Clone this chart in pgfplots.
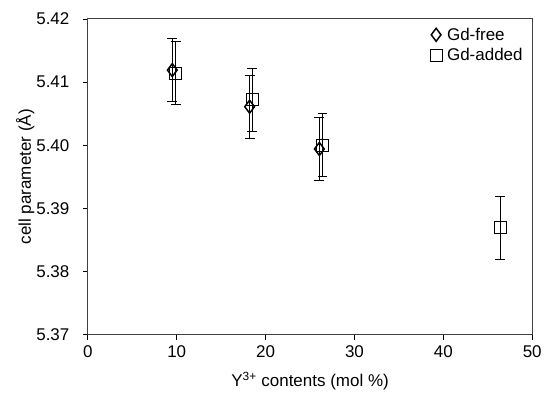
\documentclass[border=0pt]{standalone}
\usepackage{fontspec}
\setmainfont{Liberation Sans}
\usepackage{pgfplots}
\pgfplotsset{compat=1.18}
\begin{document}
\begin{tikzpicture}
\begin{axis}[
  scale only axis,
  width=445pt, height=316pt,
  xmin=0, xmax=50, ymin=5.37, ymax=5.42,
  xtick={0,10,20,30,40,50},
  ytick={5.37,5.38,5.39,5.40,5.41,5.42},
  yticklabel style={xshift=-10pt, /pgf/number format/.cd, fixed, fixed zerofill, precision=2},
  /pgf/number format/assume math mode=true,
  tick align=outside,
  tick pos=left,
  major tick length=5pt,
  axis line style={line width=1pt, black!75},
  tick style={line width=0.9pt, black},
  ticklabel style={font=\fontsize{17}{19}\selectfont},
  xticklabel style={yshift=-3pt},
  label style={font=\fontsize{17}{19}\selectfont},
  xlabel={Y\textsuperscript{3+} contents (mol \%)},
  ylabel={cell parameter (Å)},
  xlabel style={yshift=-7pt},
  ylabel style={yshift=-5pt},
  legend style={at={(0.99,0.985)}, anchor=north east, draw=none, fill=none,
    font=\fontsize{17}{19}\selectfont, row sep=3pt},
  legend cell align=left,
  legend image code/.code={\draw[#1] plot coordinates {(0cm,0cm)};},
  clip=false,
]
\addplot[only marks, mark=diamond, mark size=6.5pt, line width=1.5pt, black,
  error bars/.cd, y dir=both, y explicit,
  error bar style={line width=0.9pt, black},
  error mark options={rotate=90, mark size=5pt, line width=0.9pt, black}]
  coordinates {
  (9.5,5.4119) +- (0,0.005)
  (18.2,5.4061) +- (0,0.005)
  (26.05,5.3994) +- (0,0.005)
  };
\addlegendentry{\hspace*{3pt}Gd-free}
\addplot[only marks, mark=square, mark size=6pt, line width=1pt, black,
  error bars/.cd, y dir=both, y explicit,
  error bar style={line width=0.9pt, black},
  error mark options={rotate=90, mark size=5pt, line width=0.9pt, black}]
  coordinates {
  (9.9,5.4114) +- (0,0.005)
  (18.5,5.4072) +- (0,0.005)
  (26.4,5.4000) +- (0,0.005)
  (46.4,5.3869) +- (0,0.005)
  };
\addlegendentry{\hspace*{3pt}Gd-added}
\end{axis}
\path ([shift={(-88pt,-63pt)}]current axis.south west) rectangle ([shift={(12pt,19pt)}]current axis.north east);
\end{tikzpicture}
\end{document}
